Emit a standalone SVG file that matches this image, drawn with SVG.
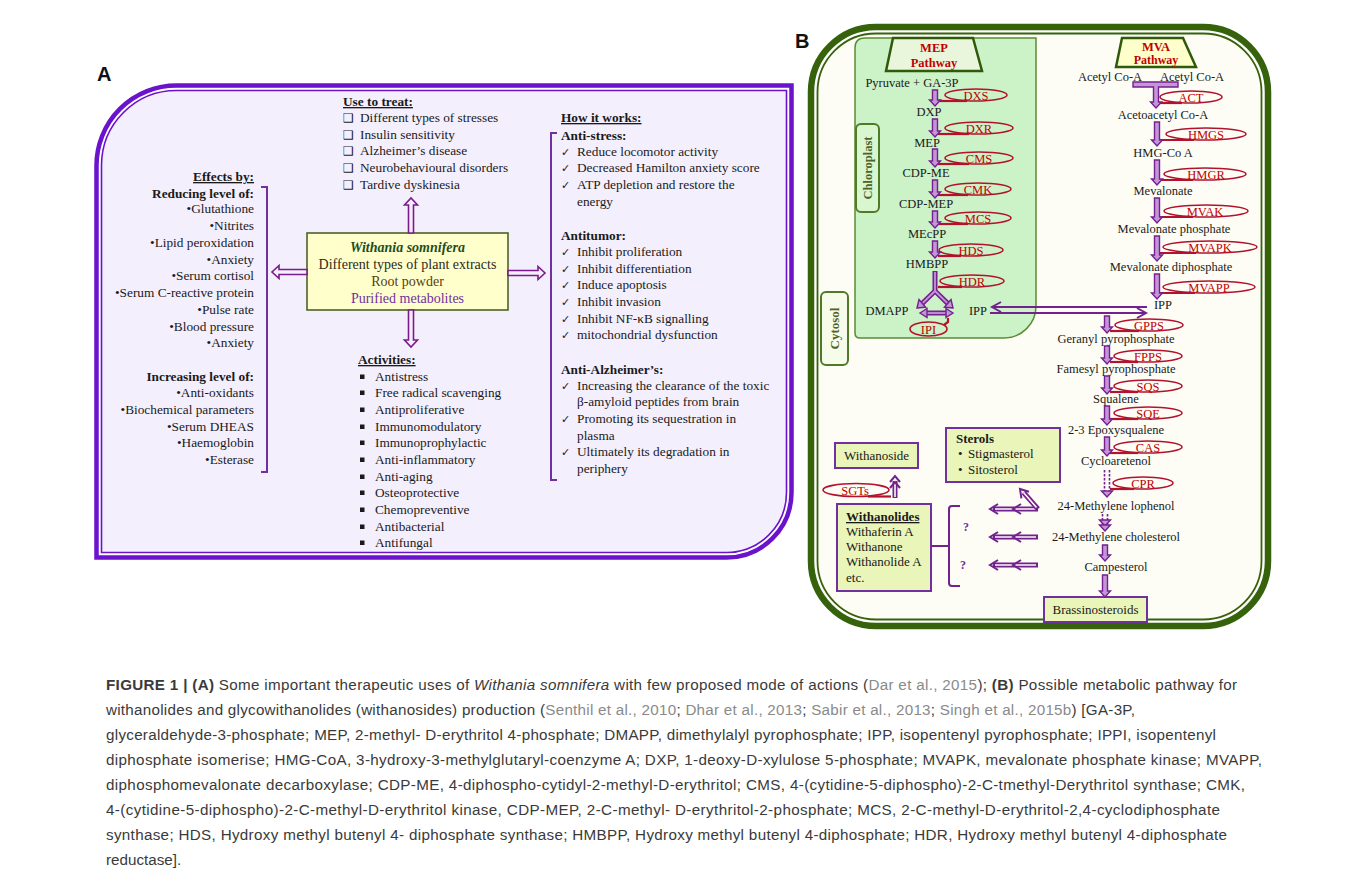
<svg xmlns="http://www.w3.org/2000/svg" width="1357" height="881" viewBox="0 0 1357 881">
<style>
.a{font-family:"Liberation Serif","Times New Roman",serif;font-size:13.3px;fill:#1a1a1a}
.ae{text-anchor:end}
.b{font-weight:bold}
.u{text-decoration:underline}
.sym{font-family:"DejaVu Sans",sans-serif;fill:#1a1a1a}
.sq{fill:#1a1a1a}
.bt{font-family:"Liberation Serif","Times New Roman",serif;font-size:12.5px;fill:#1a1a1a;text-anchor:middle}
.bt13{font-family:"Liberation Serif","Times New Roman",serif;font-size:13px;fill:#1a1a1a}
.enz{fill:none;stroke:#b3122e;stroke-width:1.6}
.tail{fill:none;stroke:#b3122e;stroke-width:2.2}
.enzt{font-family:"Liberation Serif","Times New Roman",serif;font-size:12.5px;fill:#c00000;text-anchor:middle}
.da{fill:#c595d8;stroke:#73218e;stroke-width:1.4}
.aa{fill:#f4effd;stroke:#7b1a8a;stroke-width:1.6}
.sh{fill:none;stroke:#73218e;stroke-width:5}
.shi{fill:none;stroke:#fdfdf5;stroke-width:1.6}
.shp{fill:none;stroke:#c595d8;stroke-width:1.8}
.chev{fill:none;stroke:#73218e;stroke-width:2}
.ln{fill:none;stroke:#73218e;stroke-width:2}
.brk{fill:none;stroke:#7030a0;stroke-width:2}
.pbox{fill:#eaf5b9;stroke:#7030a0;stroke-width:2}
.cap{font-family:"Liberation Sans",Arial,sans-serif;font-size:15.2px;fill:#3a3a3a}
.cite{fill:#8a8a8a}
.lab{font-family:"Liberation Sans",Arial,sans-serif;font-weight:bold;font-size:20px;fill:#111}
</style>

<rect width="1357" height="881" fill="#ffffff"/>

<!-- ================= PANEL A ================= -->
<g id="panelA-frame">
  <text class="lab" x="97" y="81">A</text>
  <path d="M96.5 165.5 A80 80 0 0 1 176.5 85.5 H791.5 V492.5 A65 65 0 0 1 726.5 557.5 H96.5 Z" fill="#ffffff" stroke="#6a12cc" stroke-width="4.5"/>
  <path d="M101.5 165.5 A75 75 0 0 1 176.5 90.5 H786.5 V492.5 A60 60 0 0 1 726.5 552.5 H101.5 Z" fill="#f4effd" stroke="#6a12cc" stroke-width="1.6"/>
</g>

<g id="effects">
  <text class="a ae b u" x="254" y="181">Effects by:</text>
  <text class="a ae b" x="254" y="198">Reducing level of:</text>
  <text class="a ae" x="254" y="213">•Glutathione</text>
  <text class="a ae" x="254" y="230">•Nitrites</text>
  <text class="a ae" x="254" y="247">•Lipid peroxidation</text>
  <text class="a ae" x="254" y="264">•Anxiety</text>
  <text class="a ae" x="254" y="280">•Serum cortisol</text>
  <text class="a ae" x="254" y="297">•Serum C-reactive protein</text>
  <text class="a ae" x="254" y="314">•Pulse rate</text>
  <text class="a ae" x="254" y="331">•Blood pressure</text>
  <text class="a ae" x="254" y="347">•Anxiety</text>
  <text class="a ae b" x="254" y="381">Increasing level of:</text>
  <text class="a ae" x="254" y="397">•Anti-oxidants</text>
  <text class="a ae" x="254" y="414">•Biochemical parameters</text>
  <text class="a ae" x="254" y="431">•Serum DHEAS</text>
  <text class="a ae" x="254" y="447">•Haemoglobin</text>
  <text class="a ae" x="254" y="464">•Esterase</text>
  <path class="brk" d="M261 187 H267 V472 H261"/>
</g>

<g id="withania">
  <rect x="307" y="233" width="201" height="77" fill="#ffffcc" stroke="#4f6228" stroke-width="1.6"/>
  <text x="407.5" y="252" text-anchor="middle" font-family="Liberation Serif, serif" font-size="14" font-weight="bold" font-style="italic" fill="#1e4d1e">Withania somnifera</text>
  <text x="407.5" y="269" text-anchor="middle" font-family="Liberation Serif, serif" font-size="14" fill="#2b2b1a">Different types of plant extracts</text>
  <text x="407.5" y="286" text-anchor="middle" font-family="Liberation Serif, serif" font-size="14" fill="#5c3d0a">Root powder</text>
  <text x="407.5" y="303" text-anchor="middle" font-family="Liberation Serif, serif" font-size="14" fill="#7030a0">Purified metabolites</text>
</g>

<g id="use-to-treat">
  <text class="a b u" x="343" y="106">Use to treat:</text>
  <text class="sym" font-size="12" x="343" y="122">❑</text>
  <text class="sym" font-size="12" x="343" y="139">❑</text>
  <text class="sym" font-size="12" x="343" y="155">❑</text>
  <text class="sym" font-size="12" x="343" y="172">❑</text>
  <text class="sym" font-size="12" x="343" y="189">❑</text>
  <text class="a" x="360" y="122">Different types of stresses</text>
  <text class="a" x="360" y="139">Insulin sensitivity</text>
  <text class="a" x="360" y="155">Alzheimer’s disease</text>
  <text class="a" x="360" y="172">Neurobehavioural disorders</text>
  <text class="a" x="360" y="189">Tardive dyskinesia</text>
</g>

<g id="activities">
  <text class="a b u" x="358" y="364">Activities:</text>
  <g class="sq">
    <rect x="360" y="374.5" width="4.5" height="4.5"/><rect x="360" y="390.5" width="4.5" height="4.5"/>
    <rect x="360" y="407.5" width="4.5" height="4.5"/><rect x="360" y="424.5" width="4.5" height="4.5"/>
    <rect x="360" y="440.5" width="4.5" height="4.5"/><rect x="360" y="457.5" width="4.5" height="4.5"/>
    <rect x="360" y="474.5" width="4.5" height="4.5"/><rect x="360" y="490.5" width="4.5" height="4.5"/>
    <rect x="360" y="507.5" width="4.5" height="4.5"/><rect x="360" y="524.5" width="4.5" height="4.5"/>
    <rect x="360" y="540.5" width="4.5" height="4.5"/>
  </g>
  <text class="a" x="375" y="381">Antistress</text>
  <text class="a" x="375" y="397">Free radical scavenging</text>
  <text class="a" x="375" y="414">Antiproliferative</text>
  <text class="a" x="375" y="431">Immunomodulatory</text>
  <text class="a" x="375" y="447">Immunoprophylactic</text>
  <text class="a" x="375" y="464">Anti-inflammatory</text>
  <text class="a" x="375" y="481">Anti-aging</text>
  <text class="a" x="375" y="497">Osteoprotective</text>
  <text class="a" x="375" y="514">Chemopreventive</text>
  <text class="a" x="375" y="531">Antibacterial</text>
  <text class="a" x="375" y="547">Antifungal</text>
</g>

<g id="how-it-works">
  <text class="a b u" x="561" y="122">How it works:</text>
  <path class="brk" d="M557 133 H551 V480 H557"/>
  <text class="a b" x="561" y="140">Anti-stress:</text>
  <g class="sym" font-size="11">
    <text x="561" y="156">✓</text><text x="561" y="172">✓</text><text x="561" y="189">✓</text>
    <text x="561" y="256">✓</text><text x="561" y="273">✓</text><text x="561" y="289">✓</text>
    <text x="561" y="306">✓</text><text x="561" y="323">✓</text><text x="561" y="339">✓</text>
    <text x="561" y="390">✓</text><text x="561" y="423">✓</text><text x="561" y="456">✓</text>
  </g>
  <text class="a" x="577" y="156">Reduce locomotor activity</text>
  <text class="a" x="577" y="172">Decreased Hamilton anxiety score</text>
  <text class="a" x="577" y="189">ATP depletion and restore the</text>
  <text class="a" x="577" y="206">energy</text>
  <text class="a b" x="561" y="240">Antitumor:</text>
  <text class="a" x="577" y="256">Inhibit proliferation</text>
  <text class="a" x="577" y="273">Inhibit differentiation</text>
  <text class="a" x="577" y="289">Induce apoptosis</text>
  <text class="a" x="577" y="306">Inhibit invasion</text>
  <text class="a" x="577" y="323">Inhibit NF-κB signalling</text>
  <text class="a" x="577" y="339">mitochondrial dysfunction</text>
  <text class="a b" x="561" y="374">Anti-Alzheimer’s:</text>
  <text class="a" x="577" y="390">Increasing the clearance of the toxic</text>
  <text class="a" x="577" y="406">β-amyloid peptides from brain</text>
  <text class="a" x="577" y="423">Promoting its sequestration in</text>
  <text class="a" x="577" y="440">plasma</text>
  <text class="a" x="577" y="456">Ultimately its degradation in</text>
  <text class="a" x="577" y="473">periphery</text>
</g>

<g id="connectors-A">
  <polygon class="aa" points="408.5,233 408.5,205 404.5,205 411,198 417.5,205 413.5,205 413.5,233"/>
  <polygon class="aa" points="408.5,310 408.5,340 404.5,340 411,347 417.5,340 413.5,340 413.5,310"/>
  <polygon class="aa" points="307,269.5 279,269.5 279,265.5 272,272 279,278.5 279,274.5 307,274.5"/>
  <polygon class="aa" points="508,270.5 538,270.5 538,266.5 545,273 538,279.5 538,275.5 508,275.5"/>
</g>

<!-- ================= PANEL B ================= -->
<g id="panelB-frame">
  <text class="lab" x="795" y="48">B</text>
  <rect x="811" y="27" width="457" height="599" rx="65" fill="#ffffff" stroke="#35620b" stroke-width="6.5"/>
  <rect x="817.5" y="33.5" width="444" height="586" rx="58.5" fill="#fdfdf5" stroke="#35620b" stroke-width="1.8"/>
</g>

<g id="chloroplast">
  <path d="M855 48 Q855 38 865 38 H1036 V306 A32 32 0 0 1 1004 338 H860 Q855 338 855 333 Z" fill="#ccf2c8" stroke="#5b8c32" stroke-width="1.5"/>
  <rect x="856" y="124" width="23" height="88" rx="5" fill="#d8f6cf" stroke="#4f7a28" stroke-width="2"/>
  <text transform="translate(867.5 168) rotate(-90)" y="4.5" text-anchor="middle" font-family="Liberation Serif, serif" font-size="12.5" font-weight="bold" fill="#4f6228">Chloroplast</text>
</g>

<g id="cytosol-label">
  <rect x="821" y="292" width="27" height="73" rx="5" fill="#f6fbea" stroke="#4f7a28" stroke-width="2"/>
  <text transform="translate(834.5 328.5) rotate(-90)" y="4.5" text-anchor="middle" font-family="Liberation Serif, serif" font-size="13" font-weight="bold" fill="#4f6228">Cytosol</text>
</g>

<g id="mep-header">
  <polygon points="893,38 973,38 982,71 886,71" fill="#eaf6dc" stroke="#2f5a0a" stroke-width="2.5"/>
  <text x="934" y="52" text-anchor="middle" font-family="Liberation Serif, serif" font-size="12.5" font-weight="bold" fill="#c00000">MEP</text>
  <text x="934" y="67" text-anchor="middle" font-family="Liberation Serif, serif" font-size="12.5" font-weight="bold" fill="#c00000">Pathway</text>
</g>
<g id="mva-header">
  <polygon points="1122,38 1183,38 1196,67 1116,67" fill="#ffffcc" stroke="#2f5a0a" stroke-width="2.5"/>
  <text x="1156" y="51" text-anchor="middle" font-family="Liberation Serif, serif" font-size="12.5" font-weight="bold" fill="#c00000">MVA</text>
  <text x="1156" y="64" text-anchor="middle" font-family="Liberation Serif, serif" font-size="12" font-weight="bold" fill="#c00000">Pathway</text>
</g>

<g id="mep-metabolites">
  <text class="bt" x="912" y="87">Pyruvate + GA-3P</text>
  <text class="bt" x="929" y="116">DXP</text>
  <text class="bt" x="927" y="147">MEP</text>
  <text class="bt" x="926" y="177">CDP-ME</text>
  <text class="bt" x="926" y="208">CDP-MEP</text>
  <text class="bt" x="927" y="238">MEcPP</text>
  <text class="bt" x="927" y="268">HMBPP</text>
  <text class="bt" x="887" y="315">DMAPP</text>
  <text class="bt" x="978" y="315">IPP</text>
</g>

<g id="mva-metabolites">
  <text class="bt" x="1110" y="81">Acetyl Co-A</text>
  <text class="bt" x="1192" y="81">Acetyl Co-A</text>
  <text class="bt" x="1163" y="119">Acetoacetyl Co-A</text>
  <text class="bt" x="1163" y="157">HMG-Co A</text>
  <text class="bt" x="1163" y="195">Mevalonate</text>
  <text class="bt" x="1174" y="233">Mevalonate phosphate</text>
  <text class="bt" x="1171" y="271">Mevalonate diphosphate</text>
  <text class="bt" x="1163" y="309">IPP</text>
</g>

<g id="cytosol-metabolites">
  <text class="bt" x="1116" y="343">Geranyl pyrophosphate</text>
  <text class="bt" x="1116" y="373">Famesyl pyrophosphate</text>
  <text class="bt" x="1116" y="403">Squalene</text>
  <text class="bt" x="1116" y="434">2-3 Epoxysqualene</text>
  <text class="bt" x="1116" y="465">Cycloaretenol</text>
  <text class="bt" font-size="13" x="1116" y="510">24-Methylene lophenol</text>
  <text class="bt" font-size="13" x="1116" y="541">24-Methylene cholesterol</text>
  <text class="bt" font-size="13" x="1116" y="571">Campesterol</text>
</g>

<g id="enzymes">
  <ellipse class="enz" cx="976" cy="95" rx="31" ry="6"/><path class="tail" d="M938 101 H967"/><text class="enzt" x="976" y="99.5">DXS</text>
  <ellipse class="enz" cx="979" cy="128" rx="34" ry="6"/><path class="tail" d="M938 134 H969"/><text class="enzt" x="979" y="132.5">DXR</text>
  <ellipse class="enz" cx="979" cy="158" rx="34" ry="6"/><path class="tail" d="M938 164 H969"/><text class="enzt" x="979" y="162.5">CMS</text>
  <ellipse class="enz" cx="978" cy="189" rx="33" ry="6"/><path class="tail" d="M938 195 H968"/><text class="enzt" x="978" y="193.5">CMK</text>
  <ellipse class="enz" cx="978" cy="218" rx="33" ry="6"/><path class="tail" d="M938 224 H968"/><text class="enzt" x="978" y="222.5">MCS</text>
  <ellipse class="enz" cx="971" cy="250" rx="32" ry="6"/><path class="tail" d="M938 256 H961"/><text class="enzt" x="971" y="254.5">HDS</text>
  <ellipse class="enz" cx="972" cy="281" rx="32" ry="6"/><path class="tail" d="M938 287 H962"/><text class="enzt" x="972" y="285.5">HDR</text>
  <ellipse class="enz" cx="928.5" cy="329" rx="18.5" ry="7"/><path class="tail" d="M944 325 L948 322 V318"/><text class="enzt" x="928.5" y="333.5">IPI</text>

  <ellipse class="enz" cx="1191" cy="97" rx="31" ry="6"/><path class="tail" d="M1159 103 H1182"/><text class="enzt" x="1191" y="101.5">ACT</text>
  <ellipse class="enz" cx="1206" cy="134" rx="40" ry="6"/><path class="tail" d="M1160 140 H1194"/><text class="enzt" x="1206" y="138.5">HMGS</text>
  <ellipse class="enz" cx="1205" cy="174" rx="41" ry="6"/><path class="tail" d="M1160 180 H1193"/><text class="enzt" x="1206" y="178.5">HMGR</text>
  <ellipse class="enz" cx="1206" cy="211" rx="42" ry="6"/><path class="tail" d="M1160 217 H1193"/><text class="enzt" x="1205" y="215.5">MVAK</text>
  <ellipse class="enz" cx="1210" cy="247" rx="47" ry="6"/><path class="tail" d="M1160 253 H1196"/><text class="enzt" x="1210" y="251.5">MVAPK</text>
  <ellipse class="enz" cx="1209" cy="287" rx="46" ry="6"/><path class="tail" d="M1160 293 H1195"/><text class="enzt" x="1209" y="291.5">MVAPP</text>

  <ellipse class="enz" cx="1149" cy="325" rx="34" ry="6"/><path class="tail" d="M1110 331 H1139"/><text class="enzt" x="1149" y="329.5">GPPS</text>
  <ellipse class="enz" cx="1148" cy="356" rx="34" ry="6"/><path class="tail" d="M1110 362 H1138"/><text class="enzt" x="1148" y="360.5">FPPS</text>
  <ellipse class="enz" cx="1148" cy="386" rx="34" ry="6"/><path class="tail" d="M1110 392 H1138"/><text class="enzt" x="1148" y="390.5">SQS</text>
  <ellipse class="enz" cx="1148" cy="413" rx="34" ry="6"/><path class="tail" d="M1110 419 H1138"/><text class="enzt" x="1148" y="417.5">SQE</text>
  <ellipse class="enz" cx="1148" cy="447" rx="34" ry="6"/><path class="tail" d="M1110 453 H1138"/><text class="enzt" x="1148" y="451.5">CAS</text>
  <ellipse class="enz" cx="1143" cy="483" rx="30" ry="6"/><path class="tail" d="M1110 489 H1134"/><text class="enzt" x="1143" y="487.5">CPR</text>

  <ellipse class="enz" cx="856" cy="490" rx="33" ry="6.5"/><path class="tail" d="M868 496.5 H891"/><text class="enzt" x="855" y="494.5">SGTs</text>
</g>

<g id="sterols">
  <rect x="946" y="428" width="114" height="54" class="pbox"/>
  <text class="bt13 b" x="956" y="443">Sterols</text>
  <text class="bt13" x="958" y="458">•</text><text class="bt13" x="968" y="458">Stigmasterol</text>
  <text class="bt13" x="958" y="474">•</text><text class="bt13" x="968" y="474">Sitosterol</text>
</g>
<g id="withanoside">
  <rect x="835" y="443" width="83" height="25" class="pbox"/>
  <text class="bt13" x="876.5" y="460" text-anchor="middle">Withanoside</text>
</g>
<g id="withanolides">
  <rect x="837" y="504" width="94" height="87" class="pbox"/>
  <text class="bt13 b u" font-size="13.5" x="846" y="521">Withanolides</text>
  <text class="bt13" font-size="13.5" x="846" y="536">Withaferin A</text>
  <text class="bt13" font-size="13.5" x="846" y="551">Withanone</text>
  <text class="bt13" font-size="13.5" x="846" y="566">Withanolide A</text>
  <text class="bt13" font-size="13.5" x="846" y="582">etc.</text>
</g>
<g id="brassinosteroids">
  <rect x="1044" y="597" width="103" height="25" class="pbox"/>
  <text class="bt13" x="1095.5" y="614" text-anchor="middle">Brassinosteroids</text>
</g>

<g id="connectors-B">
  <polygon class="da" points="932.5,90 932.5,100 929.5,100 935,106 940.5,100 937.5,100 937.5,90"/>
  <polygon class="da" points="932.5,119 932.5,131 929.5,131 935,137 940.5,131 937.5,131 937.5,119"/>
  <polygon class="da" points="932.5,149 932.5,161 929.5,161 935,167 940.5,161 937.5,161 937.5,149"/>
  <polygon class="da" points="932.5,180 932.5,192 929.5,192 935,198 940.5,192 937.5,192 937.5,180"/>
  <polygon class="da" points="932.5,211 932.5,222 929.5,222 935,228 940.5,222 937.5,222 937.5,211"/>
  <polygon class="da" points="932.5,241 932.5,252 929.5,252 935,258 940.5,252 937.5,252 937.5,241"/>
  <path class="sh" d="M935 271 V291 L922.3 303.4 M935 291 L947.7 303.4" stroke-linejoin="round"/>
  <path class="shp" d="M935 272 V291 L922.3 303.4 M935 291 L947.7 303.4" stroke-linejoin="round"/>
  <polygon class="da" points="917,308 925.6,307.2 919,299.6"/>
  <polygon class="da" points="953,308 944.4,307.2 951,299.6"/>
  <path class="sh" d="M926 313 H947"/><path class="shp" d="M926 313 H947"/>
  <polygon class="da" points="920,313 927,308.5 927,317.5"/>
  <polygon class="da" points="953,313 946,308.5 946,317.5"/>
  <path class="ln" d="M1147 307 H993"/><path class="chev" d="M1001 302 L992 307 L1001 312"/>
  <path class="ln" d="M990 313 H1145"/><path class="chev" d="M1137 308 L1146 313 L1137 318"/>
  <polygon class="da" points="1133,82 1178,82 1178,87 1158.5,87 1158.5,102 1161.5,102 1156,108 1150.5,102 1153.5,102 1153.5,87 1133,87"/>
  <polygon class="da" points="1154.5,122 1154.5,140 1151.5,140 1157,146 1162.5,140 1159.5,140 1159.5,122"/>
  <polygon class="da" points="1154.5,160 1154.5,179 1151.5,179 1157,185 1162.5,179 1159.5,179 1159.5,160"/>
  <polygon class="da" points="1154.5,198 1154.5,217 1151.5,217 1157,223 1162.5,217 1159.5,217 1159.5,198"/>
  <polygon class="da" points="1154.5,236 1154.5,255 1151.5,255 1157,261 1162.5,255 1159.5,255 1159.5,236"/>
  <polygon class="da" points="1154.5,274 1154.5,293 1151.5,293 1157,299 1162.5,293 1159.5,293 1159.5,274"/>
  <polygon class="da" points="1104.5,316 1104.5,327 1101.5,327 1107,333 1112.5,327 1109.5,327 1109.5,316"/>
  <polygon class="da" points="1104.5,346 1104.5,358 1101.5,358 1107,364 1112.5,358 1109.5,358 1109.5,346"/>
  <polygon class="da" points="1104.5,376 1104.5,388 1101.5,388 1107,394 1112.5,388 1109.5,388 1109.5,376"/>
  <polygon class="da" points="1104.5,406 1104.5,419 1101.5,419 1107,425 1112.5,419 1109.5,419 1109.5,406"/>
  <polygon class="da" points="1104.5,437 1104.5,450 1101.5,450 1107,456 1112.5,450 1109.5,450 1109.5,437"/>
  <path d="M1104.5 470 V491 M1109.5 470 V491" fill="none" stroke="#73218e" stroke-width="1.6" stroke-dasharray="2.5 1.5"/>
  <polygon class="da" points="1101.5,491 1107,497 1112.5,491"/>
  <path d="M1102.5 514 V525 M1107.5 514 V525" fill="none" stroke="#73218e" stroke-width="1.6" stroke-dasharray="2.5 1.5"/>
  <polygon class="da" points="1099.5,520 1105,526 1110.5,520"/>
  <polygon class="da" points="1099.5,525 1105,531 1110.5,525"/>
  <polygon class="da" points="1102.5,545 1102.5,555 1099.5,555 1105,561 1110.5,555 1107.5,555 1107.5,545"/>
  <polygon class="da" points="1102.5,575 1102.5,591 1099.5,591 1105,597 1110.5,591 1107.5,591 1107.5,575"/>
  <path class="sh" d="M993 509 H1038"/><path class="shi" d="M995 509 H1036"/>
  <path class="chev" d="M998 504 L990 509 L998 514 M1021 504 L1013 509 L1021 514"/>
  <path class="sh" d="M993 537 H1038"/><path class="shi" d="M995 537 H1036"/>
  <path class="chev" d="M998 532 L990 537 L998 542 M1021 532 L1013 537 L1021 542"/>
  <path class="sh" d="M993 565 H1038"/><path class="shi" d="M995 565 H1036"/>
  <path class="chev" d="M998 560 L990 565 L998 570 M1021 560 L1013 565 L1021 570"/>
  <path class="sh" d="M1038 509 L1023.5 492.5"/><path class="shi" d="M1036.5 507.5 L1023.5 492.5"/>
  <path class="chev" d="M1029 491.8 L1020 489 L1021.4 498.4"/>
  <path class="sh" d="M895 498 V481"/><path class="shi" d="M895 497 V481"/>
  <path class="chev" d="M890 482 L895 476 L900 482 M890 488 L895 482 L900 488"/>
  <path class="ln" d="M931 546 H949 M960 506 H952 Q949 506 949 509 V583 Q949 586 952 586 H960"/>
  <text x="966" y="531" text-anchor="middle" font-family="Liberation Serif, serif" font-size="12" font-weight="bold" fill="#7030a0">?</text>
  <text x="963" y="569" text-anchor="middle" font-family="Liberation Serif, serif" font-size="12" font-weight="bold" fill="#7030a0">?</text>
</g>

<g id="caption" class="cap">
  <text x="106" y="690" textLength="1131"><tspan font-weight="bold">FIGURE 1 | (A)</tspan> Some important therapeutic uses of <tspan font-style="italic">Withania somnifera</tspan> with few proposed mode of actions (<tspan class="cite">Dar et al., 2015</tspan>); <tspan font-weight="bold">(B)</tspan> Possible metabolic pathway for</text>
  <text x="106" y="715" textLength="1029">withanolides and glycowithanolides (withanosides) production (<tspan class="cite">Senthil et al., 2010</tspan>; <tspan class="cite">Dhar et al., 2013</tspan>; <tspan class="cite">Sabir et al., 2013</tspan>; <tspan class="cite">Singh et al., 2015b</tspan>) [GA-3P,</text>
  <text x="106" y="740" textLength="1110">glyceraldehyde-3-phosphate; MEP, 2-methyl- D-erythritol 4-phosphate; DMAPP, dimethylalyl pyrophosphate; IPP, isopentenyl pyrophosphate; IPPI, isopentenyl</text>
  <text x="106" y="765" textLength="1156">diphosphate isomerise; HMG-CoA, 3-hydroxy-3-methylglutaryl-coenzyme A; DXP, 1-deoxy-D-xylulose 5-phosphate; MVAPK, mevalonate phosphate kinase; MVAPP,</text>
  <text x="106" y="790" textLength="1139">diphosphomevalonate decarboxylase; CDP-ME, 4-diphospho-cytidyl-2-methyl-D-erythritol; CMS, 4-(cytidine-5-diphospho)-2-C-tmethyl-Derythritol synthase; CMK,</text>
  <text x="106" y="815" textLength="1114">4-(cytidine-5-diphospho)-2-C-methyl-D-erythritol kinase, CDP-MEP, 2-C-methyl- D-erythritol-2-phosphate; MCS, 2-C-methyl-D-erythritol-2,4-cyclodiphosphate</text>
  <text x="106" y="840" textLength="1121">synthase; HDS, Hydroxy methyl butenyl 4- diphosphate synthase; HMBPP, Hydroxy methyl butenyl 4-diphosphate; HDR, Hydroxy methyl butenyl 4-diphosphate</text>
  <text x="106" y="865">reductase].</text>
</g>
</svg>
